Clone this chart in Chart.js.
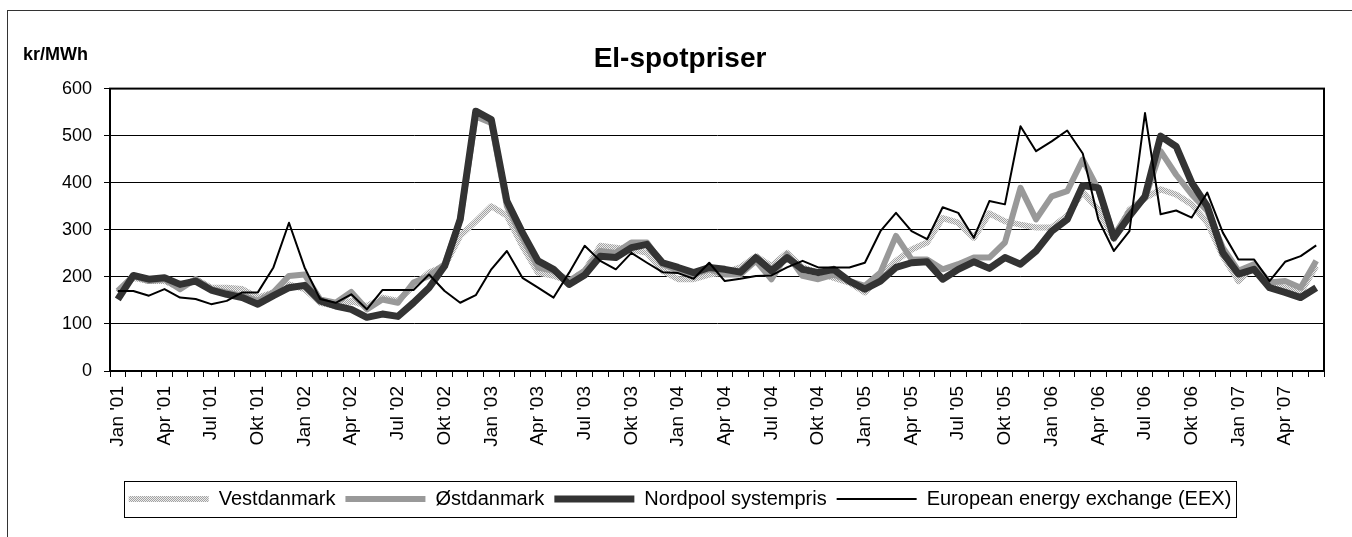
<!DOCTYPE html>
<html>
<head>
<meta charset="utf-8">
<title>El-spotpriser</title>
<script src="https://cdn.jsdelivr.net/npm/chart.js@4/dist/chart.umd.min.js"></script>
<style>
  html, body { margin: 0; padding: 0; background: #fff; overflow: hidden; }
  #wrap { position: relative; width: 1352px; height: 537px; }
  #frame { position: absolute; left: 7px; top: 10px; width: 1400px; height: 600px; border: 1px solid #333; }
  #chart { position: absolute; left: 0; top: 0; }
</style>
</head>
<body>
<div id="wrap">
  <div id="frame"></div>
  <canvas id="chart" width="1352" height="537"></canvas>
</div>
<script>
var chartTitle = 'El-spotpriser';
var unitLabel = 'kr/MWh';

// months Jan '01 - Jun '07
var categories = [
  "Jan '01","Feb '01","Mar '01","Apr '01","Maj '01","Jun '01","Jul '01","Aug '01","Sep '01","Okt '01","Nov '01","Dec '01",
  "Jan '02","Feb '02","Mar '02","Apr '02","Maj '02","Jun '02","Jul '02","Aug '02","Sep '02","Okt '02","Nov '02","Dec '02",
  "Jan '03","Feb '03","Mar '03","Apr '03","Maj '03","Jun '03","Jul '03","Aug '03","Sep '03","Okt '03","Nov '03","Dec '03",
  "Jan '04","Feb '04","Mar '04","Apr '04","Maj '04","Jun '04","Jul '04","Aug '04","Sep '04","Okt '04","Nov '04","Dec '04",
  "Jan '05","Feb '05","Mar '05","Apr '05","Maj '05","Jun '05","Jul '05","Aug '05","Sep '05","Okt '05","Nov '05","Dec '05",
  "Jan '06","Feb '06","Mar '06","Apr '06","Maj '06","Jun '06","Jul '06","Aug '06","Sep '06","Okt '06","Nov '06","Dec '06",
  "Jan '07","Feb '07","Mar '07","Apr '07","Maj '07","Jun '07"
];

var vestdanmark = [
  167,198,191,191,177,195,177,177,174,156,167,184,
  174,145,138,149,138,156,149,181,209,223,287,318,
  350,330,265,209,202,191,213,266,262,258,251,213,
  195,195,205,209,220,244,223,251,220,209,198,188,
  167,202,234,258,273,325,315,283,335,318,311,305,
  305,330,380,343,280,343,367,386,375,354,315,244,
  191,223,184,177,167,223
];

var ostdanmark = [
  170,202,191,195,174,195,174,167,160,149,167,202,
  205,152,145,168,131,152,145,188,202,227,322,541,
  527,350,283,220,213,191,213,255,251,273,273,227,
  213,205,216,205,205,234,195,248,202,195,205,191,
  181,209,287,237,237,216,227,241,241,273,389,322,
  371,382,449,386,287,340,367,467,417,375,340,262,
  213,227,188,191,177,234
];

var nordpool = [
  152,203,195,198,184,191,172,163,156,142,160,177,
  182,149,138,131,114,121,116,145,177,223,322,552,
  534,361,294,234,216,184,204,244,241,262,269,230,
  220,209,220,216,210,241,213,241,216,209,216,191,
  174,191,220,230,232,195,216,232,218,241,227,255,
  297,322,394,389,283,329,371,499,477,400,350,251,
  206,216,177,167,156,177
];

var eex = [
  170,170,160,174,156,153,142,149,167,167,220,315,
  220,153,145,163,131,172,172,172,205,170,145,161,
  216,255,198,177,156,209,266,234,216,251,230,210,
  208,196,230,191,196,202,203,220,234,220,220,220,
  230,297,336,297,280,348,336,283,361,354,520,467,
  488,511,462,322,255,297,548,333,341,326,379,294,
  237,237,191,232,244,267
];

var yTicks = [0, 100, 200, 300, 400, 500, 600];

var fontFamily = "'Liberation Sans', Arial, Helvetica, sans-serif";
Chart.defaults.font.family = fontFamily;
Chart.defaults.color = '#000';

// stippled grey used for Vestdanmark
function makeStipple() {
    var c = document.createElement('canvas');
    c.width = 2; c.height = 2;
    var g = c.getContext('2d');
    g.fillStyle = '#ececec';
    g.fillRect(0, 0, 2, 2);
    g.fillStyle = '#a2a2a2';
    g.fillRect(0, 0, 1, 1);
    g.fillRect(1, 1, 1, 1);
    return g.createPattern(c, 'repeat');
}
var stipple = makeStipple();

// plot frame, legend frame and unit label
var extras = {
    id: 'extras',
    afterDraw: function(chart) {
        var ctx = chart.ctx;
        var a = chart.chartArea;
        ctx.save();
        ctx.strokeStyle = '#000';
        ctx.lineWidth = 2;
        ctx.strokeRect(a.left, a.top, a.right - a.left, a.bottom - a.top);

        var boxes = chart.legend.legendHitBoxes;
        if (boxes && boxes.length) {
            var first = boxes[0], last = boxes[boxes.length - 1];
            var l = Math.round(first.left) - 5;
            var r = Math.round(last.left + last.width) + 5;
            var t = Math.round(first.top) - 8;
            var b = Math.round(first.top + first.height) + 8;
            ctx.lineWidth = 1;
            ctx.strokeRect(l + 0.5, t + 0.5, r - l, b - t);
        }

        ctx.fillStyle = '#000';
        ctx.font = 'bold 18px ' + fontFamily;
        ctx.textAlign = 'left';
        ctx.textBaseline = 'alphabetic';
        ctx.fillText(unitLabel, 23, 60);
        ctx.restore();
    }
};

var ctx = document.getElementById('chart').getContext('2d');
var chart = new Chart(ctx, {
    type: 'line',
    data: {
        labels: categories,
        datasets: [
            { label: 'Vestdanmark', data: vestdanmark, borderColor: stipple, backgroundColor: stipple, borderWidth: 6, order: 4 },
            { label: 'Østdanmark', data: ostdanmark, borderColor: '#999999', backgroundColor: '#999999', borderWidth: 6, order: 3 },
            { label: 'Nordpool systempris', data: nordpool, borderColor: '#333333', backgroundColor: '#333333', borderWidth: 7, order: 2 },
            { label: 'European energy exchange (EEX)', data: eex, borderColor: '#000000', backgroundColor: '#000000', borderWidth: 2, order: 1 }
        ]
    },
    options: {
        responsive: false,
        animation: false,
        devicePixelRatio: 1,
        layout: { padding: { left: 36, right: 28, top: 0, bottom: 18 } },
        elements: {
            point: { radius: 0, hoverRadius: 0 },
            line: { tension: 0, borderJoinStyle: 'round', borderCapStyle: 'butt', fill: false }
        },
        scales: {
            x: {
                offset: true,
                grid: { offset: true, drawOnChartArea: false, drawTicks: true, tickLength: 6, color: '#000' },
                border: { color: '#000', width: 2 },
                ticks: {
                    autoSkip: false,
                    maxRotation: 90,
                    minRotation: 90,
                    padding: 9,
                    font: { size: 19 },
                    callback: function(value, index) {
                        return index % 3 === 0 ? this.getLabelForValue(value) : '';
                    }
                },
                afterFit: function(scale) { scale.height = 108; }
            },
            y: {
                min: 0,
                max: 600,
                afterBuildTicks: function(scale) {
                    scale.ticks = yTicks.map(function(v) { return { value: v }; });
                },
                grid: { color: '#000', lineWidth: 1, tickLength: 6, tickColor: '#000' },
                border: { color: '#000', width: 2 },
                ticks: { padding: 12, font: { size: 18 } },
                afterFit: function(scale) { scale.width = 74; }
            }
        },
        plugins: {
            title: {
                display: true,
                text: chartTitle,
                font: { size: 28, weight: 'bold' },
                color: '#000',
                padding: { top: 42, bottom: 13 }
            },
            legend: {
                position: 'bottom',
                labels: {
                    usePointStyle: true,
                    pointStyle: 'line',
                    pointStyleWidth: 80,
                    padding: 10,
                    font: { size: 20 },
                    sort: function(a, b) { return a.datasetIndex - b.datasetIndex; }
                }
            },
            tooltip: { enabled: false }
        }
    },
    plugins: [extras]
});
</script>
</body>
</html>
